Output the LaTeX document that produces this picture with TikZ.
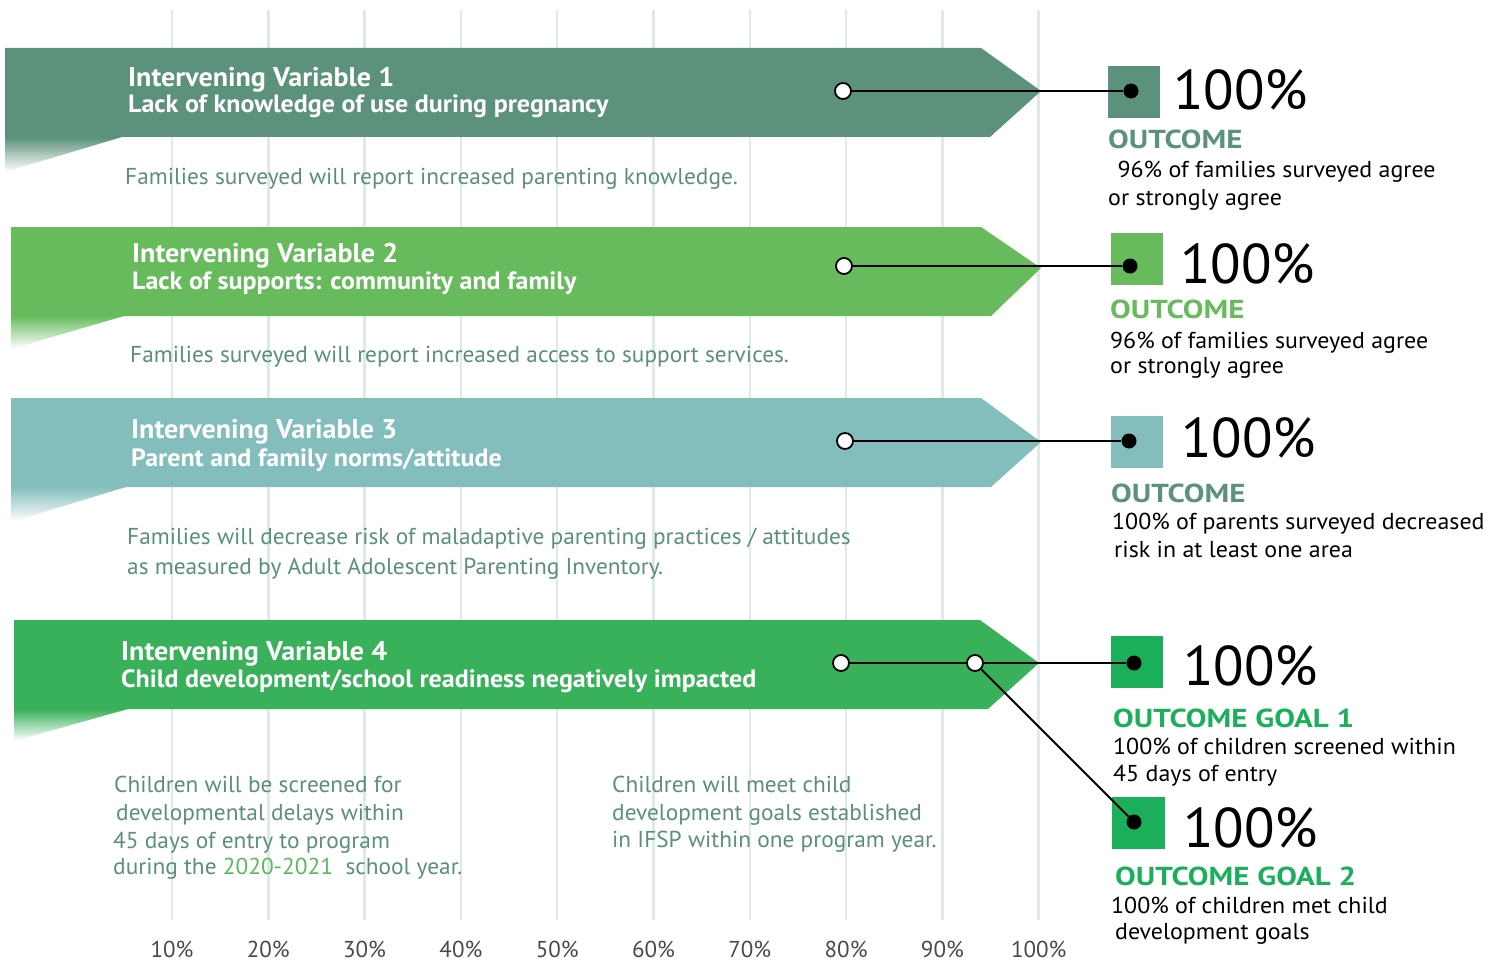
\documentclass[tikz,border=0pt]{standalone}
\usepackage{fontspec}
\setmainfont{PT Sans}
\newfontfamily\ttlfont[FakeStretch=1.04]{PT Sans}
\newfontfamily\outfont[FakeStretch=1.19]{PT Sans}
\newfontfamily\txtfont[FakeStretch=1.04]{PT Sans}
\newfontfamily\dscfont[FakeStretch=1.015]{PT Sans}
\definecolor{cA}{HTML}{5C917B}
\definecolor{cB}{HTML}{67BB5D}
\definecolor{cC}{HTML}{83BEBC}
\definecolor{cD}{HTML}{39B15A}
\definecolor{sqD}{HTML}{1BAF5C}
\definecolor{descc}{HTML}{5A8F7A}
\definecolor{yearc}{HTML}{5CB85C}
\definecolor{gridc}{HTML}{DFE9E6}
\definecolor{axisc}{HTML}{4A4A4A}
\tikzset{
  gridline/.style={draw=gridc, line width=2.5pt},
  titleA/.style={font=\ttlfont\bfseries\fontsize{27}{30}\selectfont, text=white, anchor=base west, inner sep=0pt},
  titleB/.style={font=\ttlfont\bfseries\fontsize{25}{28}\selectfont, text=white, anchor=base west, inner sep=0pt},
  desc/.style={font=\dscfont\fontsize{23}{28}\selectfont, text=descc, anchor=base west, inner sep=0pt},
  big/.style={font=\fontsize{56}{60}\selectfont, text=black, anchor=base west, inner sep=0pt},
  outc/.style={font=\outfont\bfseries\fontsize{26}{28}\selectfont, anchor=base west, inner sep=0pt},
  otext/.style={font=\txtfont\fontsize{23}{27}\selectfont, text=black, anchor=base west, inner sep=0pt},
  axislbl/.style={font=\fontsize{23}{26}\selectfont, text=axisc, anchor=base, inner sep=0pt},
  ocirc/.style={circle, draw=black, line width=1.8pt, fill=white, minimum size=16pt, inner sep=0pt},
  dotn/.style={circle, fill=black, minimum size=15pt, inner sep=0pt},
  conn/.style={draw=black, line width=1.8pt},
}
\begin{document}
\begin{tikzpicture}[x=1pt,y=-1pt]
\useasboundingbox (0,0) rectangle (1505,963);
% grid
\foreach \k in {0,...,9} {
  \draw[gridline] ({172+96.3*\k},10) -- ({172+96.3*\k},920);
}
% tails
\shade[top color=cA, bottom color=white] (5,137) -- (122,137) -- (5,172) -- cycle;
\shade[top color=cB, bottom color=white] (11,316) -- (124,316) -- (11,349) -- cycle;
\shade[top color=cC, bottom color=white] (11,487) -- (126,487) -- (11,522) -- cycle;
\shade[top color=cD, bottom color=white] (14,709) -- (128,709) -- (14,741) -- cycle;
% arrows
\fill[cA] (5,48) -- (981,48) -- (1041,91) -- (990,137) -- (5,137) -- cycle;
\fill[cB] (11,227) -- (981,227) -- (1041,268) -- (991,316) -- (11,316) -- cycle;
\fill[cC] (11,398) -- (981,398) -- (1041,442) -- (991,487) -- (11,487) -- cycle;
\fill[cD] (14,620) -- (980,620) -- (1039,663) -- (988,709) -- (14,709) -- cycle;
% arrow titles
\node[titleA] (t1a) at (128,87) {Intervening Variable 1};
\node[titleB] (t1b) at (128,113) {Lack of knowledge of use during pregnancy};
\node[titleA] (t2a) at (132,262) {Intervening Variable 2};
\node[titleB] (t2b) at (132,289) {Lack of supports: community and family};
\node[titleA] (t3a) at (131,438) {Intervening Variable 3};
\node[titleB] (t3b) at (131,466) {Parent and family norms/attitude};
\node[titleA] (t4a) at (121,660) {Intervening Variable 4};
\node[titleB] (t4b) at (121,687) {Child development/school readiness negatively impacted};
% descriptions
\node[desc] (d1t) at (125,184) {Families surveyed will report increased parenting knowledge.};
\node[desc] (d2t) at (130,362) {Families surveyed will report increased access to support services.};
\node[desc] (d3a) at (127,544) {Families will decrease risk of maladaptive parenting practices / attitudes};
\node[desc] (d3b) at (127,574) {as measured by Adult Adolescent Parenting Inventory.};
\node[desc] (d4a) at (114,792) {Children will be screened for};
\node[desc] (d4b) at (116,820) {developmental delays within};
\node[desc] (d4c) at (113,848) {45 days of entry to program};
\node[desc] (d4d) at (113,874) {during the \textcolor{yearc}{2020-2021}\ \ school year.};
\node[desc] (d5a) at (612,792) {Children will meet child};
\node[desc] (d5b) at (612,820) {development goals established};
\node[desc] (d5c) at (612,847) {in IFSP within one program year.};
% axis labels
\foreach \k/\l in {0/10,1/20,2/30,3/40,4/50,5/60,6/70,7/80,8/90,9/100} {
  \node[axislbl] (ax\l) at ({172+96.3*\k},957) {\l\%};
}
% squares
\fill[cA] (1108,66) rectangle (1160,118);
\fill[cB] (1111,233) rectangle (1163,285);
\fill[cC] (1111,416) rectangle (1163,468);
\fill[sqD] (1111,636) rectangle (1163,688);
\fill[sqD] (1112,797) rectangle (1165,849);
% big numbers
\node[big] (b1) at (1173,110) {100\%};
\node[big] (b2) at (1180,283) {100\%};
\node[big] (b3) at (1181,457) {100\%};
\node[big] (b4) at (1183,685) {100\%};
\node[big] (b5) at (1183,847) {100\%};
% outcomes
\node[outc, text=cA] (o1h) at (1108,149) {OUTCOME};
\node[otext] (o1a) at (1111,178) {\ 96\% of families surveyed agree};
\node[otext] (o1b) at (1108,205) {or strongly agree};
\node[outc, text=cB] (o2h) at (1110,318) {OUTCOME};
\node[otext] (o2a) at (1110,348) {96\% of families surveyed agree};
\node[otext] (o2b) at (1110,373) {or strongly agree};
\node[outc, text=cA] (o3h) at (1111,502) {OUTCOME};
\node[otext] (o3a) at (1112,529) {100\% of parents surveyed decreased};
\node[otext] (o3b) at (1114,557) {risk in at least one area};
\node[outc, text=sqD] (o4h) at (1113,727) {OUTCOME GOAL 1};
\node[otext] (o4a) at (1113,754) {100\% of children screened within};
\node[otext] (o4b) at (1113,781) {45 days of entry};
\node[outc, text=sqD] (o5h) at (1115,885) {OUTCOME GOAL 2};
\node[otext] (o5a) at (1111,913) {100\% of children met child};
\node[otext] (o5b) at (1115,939) {development goals};
% connectors
\node[ocirc] (c1) at (843,91) {};
\node[dotn] (e1) at (1131,91) {};
\node[ocirc] (c2) at (844,266) {};
\node[dotn] (e2) at (1130,266) {};
\node[ocirc] (c3) at (845,441) {};
\node[dotn] (e3) at (1129,441) {};
\node[ocirc] (c4) at (841,663) {};
\node[ocirc] (c5) at (975,663) {};
\node[dotn] (e4) at (1134,663) {};
\node[dotn] (e5) at (1134,822) {};
\draw[conn] (c1) -- (e1);
\draw[conn] (c2) -- (e2);
\draw[conn] (c3) -- (e3);
\draw[conn] (c4) -- (c5);
\draw[conn] (c5) -- (e4);
\draw[conn] (c5) -- (e5);
\end{tikzpicture}
\end{document}
